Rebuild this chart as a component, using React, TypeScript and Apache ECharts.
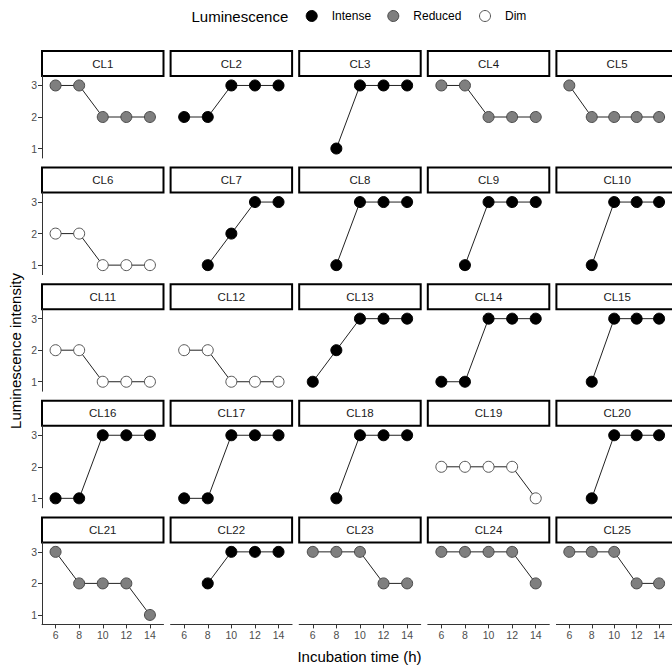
import React, { useEffect, useRef } from "react";
import * as echarts from "echarts";

const times = [6, 8, 10, 12, 14];
const panels = [
  "CL1", "CL2", "CL3", "CL4", "CL5",
  "CL6", "CL7", "CL8", "CL9", "CL10",
  "CL11", "CL12", "CL13", "CL14", "CL15",
  "CL16", "CL17", "CL18", "CL19", "CL20",
  "CL21", "CL22", "CL23", "CL24", "CL25",
];
const luminescence = [
  "Reduced", "Intense", "Intense", "Reduced", "Reduced",
  "Dim", "Intense", "Intense", "Intense", "Intense",
  "Dim", "Dim", "Intense", "Intense", "Intense",
  "Intense", "Intense", "Intense", "Dim", "Intense",
  "Reduced", "Intense", "Reduced", "Reduced", "Reduced",
];
const values: (number | null)[][] = [
  [3, 3, 2, 2, 2], [2, 2, 3, 3, 3], [null, 1, 3, 3, 3], [3, 3, 2, 2, 2], [3, 2, 2, 2, 2],
  [2, 2, 1, 1, 1], [null, 1, 2, 3, 3], [null, 1, 3, 3, 3], [null, 1, 3, 3, 3], [null, 1, 3, 3, 3],
  [2, 2, 1, 1, 1], [2, 2, 1, 1, 1], [1, 2, 3, 3, 3], [1, 1, 3, 3, 3], [null, 1, 3, 3, 3],
  [1, 1, 3, 3, 3], [1, 1, 3, 3, 3], [null, 1, 3, 3, 3], [2, 2, 2, 2, 1], [null, 1, 3, 3, 3],
  [3, 2, 2, 2, 1], [null, 2, 3, 3, 3], [3, 3, 3, 2, 2], [3, 3, 3, 3, 2], [3, 3, 3, 2, 2],
];
const categories = ["Intense", "Reduced", "Dim"];
const yTicks = [1, 2, 3];
const xTitle = "Incubation time (h)";
const yTitle = "Luminescence intensity";
const legendTitle = "Luminescence";

const catStyle: Record<string, any> = {
  Intense: { color: "#000000", borderColor: "#000000", borderWidth: 1 },
  Reduced: { color: "#7f7f7f", borderColor: "#4a4a4a", borderWidth: 1 },
  Dim: { color: "#ffffff", borderColor: "#555555", borderWidth: 1 },
};

const FONT = "'Liberation Sans', Arial, Helvetica, sans-serif";
const NCOL = 5;
const LEFT0 = 42;
const COL_PITCH = 128.6;
const PANEL_W = 121.5;
const STRIP_TOP0 = 51;
const ROW_PITCH = 116.6;
const STRIP_H = 25;
const PANEL_H = 82;
const LEGEND_KEY_X = [311.7, 393.3, 485];
const LEGEND_Y = 16;

export default function App() {
  const ref = useRef<HTMLDivElement>(null);
  useEffect(() => {
    if (!ref.current) return;
    const chart = echarts.init(ref.current, undefined, { renderer: "svg" });
    const nRow = Math.ceil(panels.length / NCOL);
    const grids: any[] = [];
    const xAxes: any[] = [];
    const yAxes: any[] = [];
    const series: any[] = [];
    const graphics: any[] = [];
    panels.forEach((name, i) => {
      const c = i % NCOL;
      const r = Math.floor(i / NCOL);
      const left = LEFT0 + c * COL_PITCH;
      const stripTop = STRIP_TOP0 + r * ROW_PITCH;
      const top = stripTop + STRIP_H;
      grids.push({ left, top, width: PANEL_W, height: PANEL_H, containLabel: false });
      const bottomRow = r === nRow - 1;
      const firstCol = c === 0;
      xAxes.push({
        type: "value",
        gridIndex: i,
        min: 4.85,
        max: 15.15,
        splitLine: { show: false },
        axisLine: { show: bottomRow, onZero: false, lineStyle: { color: "#333333", width: 1 } },
        axisTick: { show: bottomRow, customValues: times, length: 4, lineStyle: { color: "#333333" } },
        axisLabel: { show: bottomRow, customValues: times, color: "#4d4d4d", fontSize: 10.5, margin: 5, fontFamily: FONT },
      });
      yAxes.push({
        type: "value",
        gridIndex: i,
        min: 0.7,
        max: 3.3,
        splitLine: { show: false },
        axisLine: { show: firstCol, onZero: false, lineStyle: { color: "#333333", width: 1 } },
        axisTick: { show: firstCol, customValues: yTicks, length: 4, lineStyle: { color: "#333333" } },
        axisLabel: { show: firstCol, customValues: yTicks, color: "#4d4d4d", fontSize: 10.5, margin: 5, fontFamily: FONT },
      });
      const cat = luminescence[i];
      const data = times
        .map((t, k) => [t, values[i][k]])
        .filter((d) => d[1] !== null);
      series.push({
        type: "line",
        name: cat,
        xAxisIndex: i,
        yAxisIndex: i,
        data,
        symbol: "circle",
        symbolSize: 11,
        showSymbol: true,
        lineStyle: { color: "#222222", width: 1 },
        itemStyle: catStyle[cat],
        emphasis: { disabled: true },
        z: 3,
      });
      graphics.push({
        type: "rect",
        shape: { x: left, y: stripTop, width: PANEL_W, height: STRIP_H },
        style: { fill: "#ffffff", stroke: "#000000", lineWidth: 2 },
      });
      graphics.push({
        type: "text",
        x: left + PANEL_W / 2,
        y: stripTop + STRIP_H / 2,
        style: {
          text: name,
          fill: "#1a1a1a",
          font: `11.5px ${FONT}`,
          textAlign: "center",
          textVerticalAlign: "middle",
        },
      });
    });
    graphics.push({
      type: "text",
      x: 15,
      y: 351,
      rotation: Math.PI / 2,
      style: {
        text: yTitle,
        fill: "#000000",
        font: `15px ${FONT}`,
        textAlign: "center",
        textVerticalAlign: "middle",
      },
    });
    graphics.push({
      type: "text",
      x: 359.5,
      y: 656,
      style: {
        text: xTitle,
        fill: "#000000",
        font: `15px ${FONT}`,
        textAlign: "center",
        textVerticalAlign: "middle",
      },
    });
    graphics.push({
      type: "text",
      x: 191.5,
      y: LEGEND_Y,
      style: {
        text: legendTitle,
        fill: "#000000",
        font: `15px ${FONT}`,
        textAlign: "left",
        textVerticalAlign: "middle",
      },
    });
    categories.forEach((cat, k) => {
      const cx = LEGEND_KEY_X[k];
      graphics.push({
        type: "circle",
        shape: { cx, cy: LEGEND_Y, r: 5.5 },
        style: { fill: catStyle[cat].color, stroke: catStyle[cat].borderColor, lineWidth: 1 },
      });
      graphics.push({
        type: "text",
        x: cx + 20,
        y: LEGEND_Y,
        style: {
          text: cat,
          fill: "#000000",
          font: `12px ${FONT}`,
          textAlign: "left",
          textVerticalAlign: "middle",
        },
      });
    });

    chart.setOption({
      animation: false,
      textStyle: { fontFamily: FONT },
      grid: grids,
      xAxis: xAxes,
      yAxis: yAxes,
      series,
      graphic: graphics,
    });
    return () => chart.dispose();
  }, []);
  return (
    <div
      ref={ref}
      style={{ position: "fixed", left: 0, top: 0, width: 672, height: 668, background: "#ffffff" }}
    />
  );
}
